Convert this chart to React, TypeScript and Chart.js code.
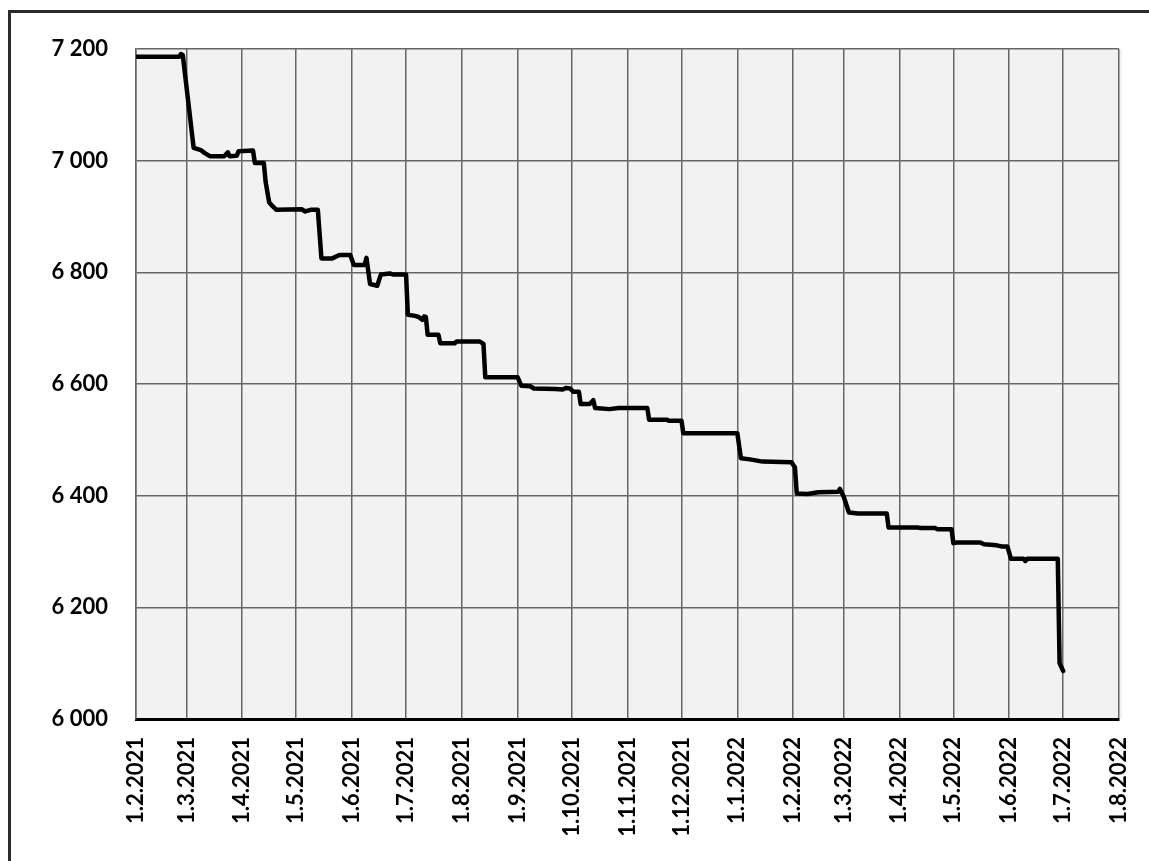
import React, { useEffect, useRef } from "react";
import { Chart, registerables } from "chart.js";

Chart.register(...registerables);

// Dates of the series points (ISO) and the matching values
const dates: string[] = [
  "2021-02-01", "2021-02-25", "2021-02-26", "2021-02-27", "2021-03-05", "2021-03-09",
  "2021-03-11", "2021-03-14", "2021-03-22", "2021-03-24", "2021-03-25", "2021-03-29",
  "2021-03-30", "2021-04-07", "2021-04-08", "2021-04-13", "2021-04-14", "2021-04-16",
  "2021-04-18", "2021-04-20", "2021-05-04", "2021-05-06", "2021-05-09", "2021-05-13",
  "2021-05-15", "2021-05-21", "2021-05-25", "2021-05-31", "2021-06-02", "2021-06-08",
  "2021-06-09", "2021-06-11", "2021-06-15", "2021-06-17", "2021-06-22", "2021-06-24",
  "2021-07-01", "2021-07-02", "2021-07-06", "2021-07-08", "2021-07-10", "2021-07-11",
  "2021-07-12", "2021-07-13", "2021-07-19", "2021-07-20", "2021-07-28", "2021-07-29",
  "2021-08-11", "2021-08-13", "2021-08-14", "2021-09-01", "2021-09-03", "2021-09-08",
  "2021-09-10", "2021-09-22", "2021-09-26", "2021-09-28", "2021-09-30", "2021-10-02",
  "2021-10-05", "2021-10-06", "2021-10-11", "2021-10-13", "2021-10-14", "2021-10-22",
  "2021-10-27", "2021-11-12", "2021-11-13", "2021-11-23", "2021-11-24", "2021-12-01",
  "2021-12-02", "2022-01-01", "2022-01-03", "2022-01-08", "2022-01-15", "2022-01-31",
  "2022-02-02", "2022-02-03", "2022-02-09", "2022-02-15", "2022-02-26", "2022-02-27",
  "2022-03-01", "2022-03-04", "2022-03-09", "2022-03-25", "2022-03-26", "2022-04-11",
  "2022-04-13", "2022-04-21", "2022-04-22", "2022-04-30", "2022-05-01", "2022-05-03",
  "2022-05-16", "2022-05-18", "2022-05-25", "2022-05-28", "2022-05-31", "2022-06-02",
  "2022-06-09", "2022-06-10", "2022-06-11", "2022-06-28", "2022-06-29", "2022-07-01",
];

const values: number[] = [
  7186, 7186, 7191, 7189, 7023, 7019,
  7014, 7008, 7008, 7015, 7008, 7009,
  7017, 7018, 6996, 6996, 6962, 6925,
  6918, 6912, 6913, 6909, 6912, 6912,
  6825, 6825, 6831, 6831, 6813, 6813,
  6826, 6779, 6776, 6796, 6798, 6796,
  6796, 6724, 6722, 6720, 6715, 6721,
  6720, 6688, 6688, 6673, 6673, 6676,
  6676, 6672, 6612, 6612, 6597, 6596,
  6592, 6591, 6590, 6593, 6592, 6586,
  6586, 6564, 6564, 6571, 6557, 6555,
  6557, 6557, 6536, 6536, 6534, 6534,
  6512, 6512, 6467, 6465, 6461, 6460,
  6451, 6404, 6403, 6406, 6407, 6412,
  6399, 6370, 6368, 6368, 6343, 6343,
  6342, 6342, 6340, 6340, 6315, 6316,
  6316, 6313, 6311, 6309, 6309, 6287,
  6287, 6283, 6287, 6287, 6100, 6086,
];

const xTickLabels: string[] = [
  "1.2.2021", "1.3.2021", "1.4.2021", "1.5.2021", "1.6.2021", "1.7.2021",
  "1.8.2021", "1.9.2021", "1.10.2021", "1.11.2021", "1.12.2021", "1.1.2022",
  "1.2.2022", "1.3.2022", "1.4.2022", "1.5.2022", "1.6.2022", "1.7.2022", "1.8.2022",
];

const yTicks: number[] = [6000, 6200, 6400, 6600, 6800, 7000, 7200];

const ORIGIN = Date.UTC(2021, 1, 1);
const DAY = 86400000;

function isoToDay(s: string): number {
  const [y, m, d] = s.split("-").map(Number);
  return Math.round((Date.UTC(y, m - 1, d) - ORIGIN) / DAY);
}
function labelToDay(s: string): number {
  const [d, m, y] = s.split(".").map(Number);
  return Math.round((Date.UTC(y, m - 1, d) - ORIGIN) / DAY);
}

const tickDays = xTickLabels.map(labelToDay);

function fmtThousands(v: number): string {
  const s = String(Math.round(v));
  return s.replace(/\B(?=(\d{3})+(?!\d))/g, " ");
}

const bgPlugin = {
  id: "plotBg",
  beforeDraw(chart: any) {
    const { ctx, chartArea } = chart;
    if (!chartArea) return;
    ctx.save();
    ctx.fillStyle = "#f2f2f2";
    ctx.fillRect(chartArea.left, chartArea.top, chartArea.right - chartArea.left + 3, chartArea.bottom - chartArea.top);
    ctx.restore();
  },
};

export default function App() {
  const ref = useRef<HTMLCanvasElement | null>(null);

  useEffect(() => {
    if (!ref.current) return;
    const points = dates.map((d, i) => ({ x: isoToDay(d), y: values[i] }));
    const font = { family: "Lato, 'Open Sans', sans-serif", size: 22, weight: "bold" as const };
    const chart = new Chart(ref.current, {
      type: "line",
      data: {
        datasets: [
          {
            data: points,
            borderColor: "#000",
            borderWidth: 4.5,
            pointRadius: 0,
            tension: 0,
            borderJoinStyle: "round",
            borderCapStyle: "round",
            fill: false,
          },
        ],
      },
      options: {
        animation: false,
        responsive: false,
        devicePixelRatio: 1,
        layout: { padding: { top: 49, right: 30, left: 0, bottom: 0 } },
        plugins: { legend: { display: false }, tooltip: { enabled: false } },
        scales: {
          x: {
            type: "linear",
            min: tickDays[0],
            max: tickDays[tickDays.length - 1],
            afterBuildTicks: (scale: any) => {
              scale.ticks = tickDays.map((v) => ({ value: v }));
            },
            afterFit: (scale: any) => {
              scale.height = 142;
              scale.paddingLeft = 0;
              scale.paddingRight = 0;
            },
            grid: { color: "#666", lineWidth: 1.5, drawTicks: false },
            border: { color: "#000", width: 3 },
            ticks: {
              autoSkip: false,
              minRotation: 90,
              maxRotation: 90,
              padding: 18,
              color: "#000",
              font,
              callback: (v: any) => {
                const i = tickDays.indexOf(Number(v));
                return i >= 0 ? xTickLabels[i] : "";
              },
            },
          },
          y: {
            type: "linear",
            min: yTicks[0],
            max: yTicks[yTicks.length - 1],
            afterBuildTicks: (scale: any) => {
              scale.ticks = yTicks.map((v) => ({ value: v }));
            },
            afterFit: (scale: any) => {
              scale.width = 136;
              scale.paddingTop = 0;
              scale.paddingBottom = 0;
            },
            grid: { color: "#666", lineWidth: 1.5, drawTicks: false },
            border: { color: "#666", width: 1.5 },
            ticks: {
              padding: 28,
              color: "#000",
              font,
              callback: (v: any) => fmtThousands(Number(v)),
            },
          },
        },
      },
      plugins: [bgPlugin],
    });
    return () => chart.destroy();
  }, []);

  return (
    <div
      style={{
        position: "fixed",
        left: 0,
        top: 0,
        width: 1149,
        height: 861,
        overflow: "hidden",
        background: "#fff",
      }}
    >
      <div
        style={{
          position: "absolute",
          left: 8,
          top: 10,
          width: 1300,
          height: 1000,
          border: "3px solid #2b2b2b",
        }}
      />
      <canvas
        ref={ref}
        width={1149}
        height={861}
        style={{ position: "absolute", left: 0, top: 0, width: 1149, height: 861 }}
      />
    </div>
  );
}
